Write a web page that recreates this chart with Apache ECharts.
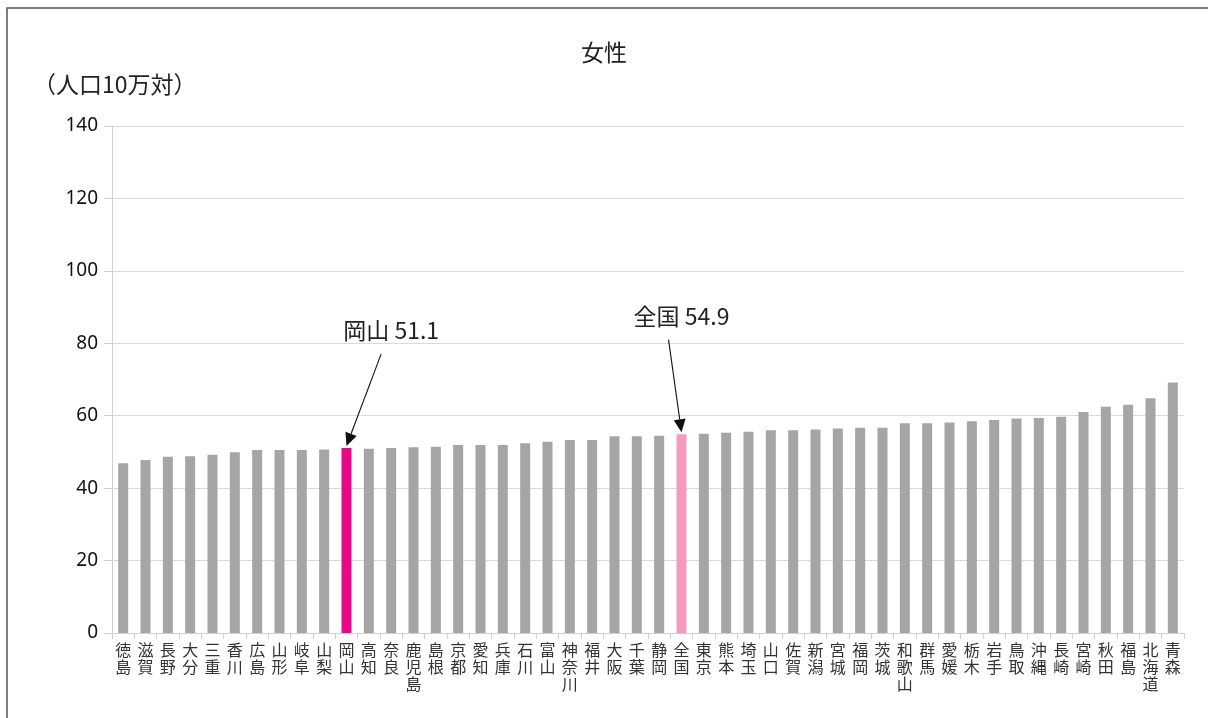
<!DOCTYPE html>
<html><head><meta charset="utf-8">
<script src="https://cdn.jsdelivr.net/npm/echarts@6/dist/echarts.min.js"></script>
<style>html,body{margin:0;padding:0;background:#fff}#c{width:1208px;height:718px}</style>
</head><body><div id="c"></div>
<script>
const title = '女性';
const unitLabel = '（人口10万対）';
const categories = ['徳島','滋賀','長野','大分','三重','香川','広島','山形','岐阜','山梨','岡山','高知','奈良','鹿児島','島根','京都','愛知','兵庫','石川','富山','神奈川','福井','大阪','千葉','静岡','全国','東京','熊本','埼玉','山口','佐賀','新潟','宮城','福岡','茨城','和歌山','群馬','愛媛','栃木','岩手','鳥取','沖縄','長崎','宮崎','秋田','福島','北海道','青森'];
const values = [46.9,47.8,48.7,48.8,49.2,49.9,50.5,50.5,50.5,50.7,51.1,50.9,51.1,51.3,51.4,51.9,51.9,51.9,52.4,52.8,53.3,53.3,54.3,54.3,54.5,54.9,55.0,55.3,55.6,56.0,56.0,56.2,56.5,56.7,56.7,57.9,57.9,58.1,58.5,58.8,59.2,59.4,59.7,61.0,62.5,63.0,64.8,69.2];
const yTicks = [0,20,40,60,80,100,120,140];
const highlights = [
  {name:'岡山', label:'岡山 51.1', color:'#e8078a', arrowFrom:[1.55, 77], textAt:[2.0, 83.6]},
  {name:'全国', label:'全国 54.9', color:'#f49ac1', arrowFrom:[-0.58, 81], textAt:[0.0, 87.4]}
];
const baseColor = '#a5a5a8';
const FONT = '"Noto Sans CJK JP", "Noto Sans", sans-serif';
const NUMFONT = '"Noto Sans", "Noto Sans CJK JP", sans-serif';

const chart = echarts.init(document.getElementById('c'));
const data = values.map((v,i)=>{
  const h = highlights.find(x=>x.name===categories[i]);
  return {value:v, itemStyle:{color: h ? h.color : baseColor}};
});
chart.setOption({
  animation:false,
  backgroundColor:'#fff',
  title:{text:title, left:'center', top:36, textStyle:{fontFamily:FONT, fontSize:23, fontWeight:'normal', color:'#222'}},
  grid:{left:112, right:24, top:126, bottom:85},
  xAxis:{type:'category', data:categories,
    axisLine:{lineStyle:{color:'#d0d0d0', width:1}},
    axisTick:{show:true, length:6, lineStyle:{color:'#d0d0d0'}},
    axisLabel:{interval:0, fontFamily:FONT, fontSize:16, color:'#333', lineHeight:17, margin:8,
      formatter:v=>v.split('').join('\n')}
  },
  yAxis:{type:'value', min:yTicks[0], max:yTicks[yTicks.length-1], interval:20,
    axisLine:{show:true, lineStyle:{color:'#d0d0d0'}},
    axisTick:{show:true, length:8, lineStyle:{color:'#d0d0d0'}},
    splitLine:{lineStyle:{color:'#d9d9d9'}},
    axisLabel:{fontFamily:NUMFONT, fontSize:19, color:'#111', margin:14}
  },
  series:[{type:'bar', data:data, barWidth:10}]
});

function build(){
  const g = [];
  g.push({type:'rect', shape:{x:7, y:8, width:1300, height:800}, style:{fill:'none', stroke:'#555', lineWidth:1.5}, z:-1});
  g.push({type:'text', left:33, top:73, style:{text:unitLabel, fontFamily:FONT, fontSize:23, fill:'#222'}});
  const p0 = chart.convertToPixel({seriesIndex:0}, [0,0]);
  const p1 = chart.convertToPixel({seriesIndex:0}, [1,0]);
  const band = p1[0]-p0[0];
  highlights.forEach(h=>{
    const i = categories.indexOf(h.name);
    const top = chart.convertToPixel({seriesIndex:0}, [i, values[i]]);
    const from = chart.convertToPixel({seriesIndex:0}, [i, h.arrowFrom[1]]);
    from[0] += h.arrowFrom[0]*band;
    const tp = chart.convertToPixel({seriesIndex:0}, [i, h.textAt[1]]);
    tp[0] += h.textAt[0]*band;
    const tip = [top[0], top[1]-2];
    const dx = tip[0]-from[0], dy = tip[1]-from[1];
    const len = Math.sqrt(dx*dx+dy*dy), ux = dx/len, uy = dy/len;
    const hl = 13, hw = 6;
    const bx = tip[0]-ux*hl, by = tip[1]-uy*hl;
    g.push({type:'line', shape:{x1:from[0], y1:from[1], x2:bx, y2:by}, style:{stroke:'#111', lineWidth:1.1}});
    g.push({type:'polygon', shape:{points:[tip,[bx-uy*hw, by+ux*hw],[bx+uy*hw, by-ux*hw]]}, style:{fill:'#111'}});
    g.push({type:'text', x:tp[0], y:tp[1], style:{text:h.label, fontFamily:FONT, fontSize:23, fill:'#222', textAlign:'center', textVerticalAlign:'middle'}});
  });
  chart.setOption({graphic:g});
}
build();
</script></body></html>
